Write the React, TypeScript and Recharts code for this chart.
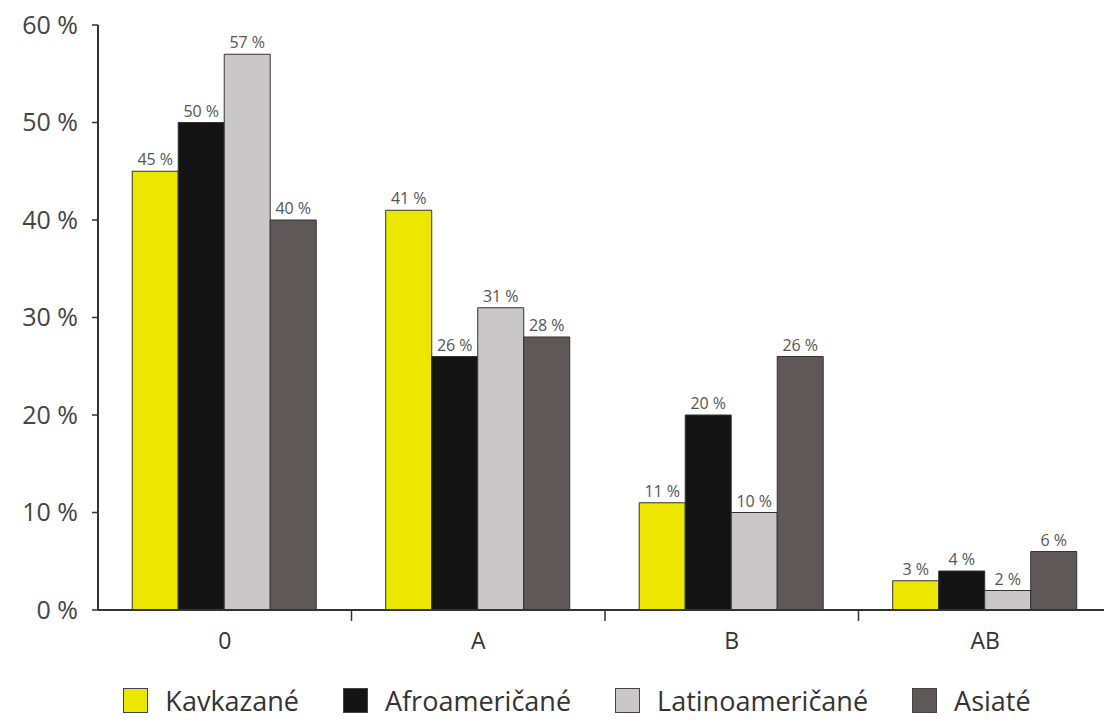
import { BarChart, Bar, XAxis, YAxis, LabelList, Legend } from "recharts";

const groups = ["0", "A", "B", "AB"];
const kavkazane = [45, 41, 11, 3];
const afroamericane = [50, 26, 20, 4];
const latinoamericane = [57, 31, 10, 2];
const asiate = [40, 28, 26, 6];
const yTicks = [0, 10, 20, 30, 40, 50, 60];

const series = [
  { key: "kav", name: "Kavkazané", color: "#ede600", values: kavkazane },
  { key: "afro", name: "Afroameričané", color: "#141414", values: afroamericane },
  { key: "lat", name: "Latinoameričané", color: "#c9c7c7", values: latinoamericane },
  { key: "asi", name: "Asiaté", color: "#5e5858", values: asiate },
];

const data = groups.map((g, i) => {
  const row: Record<string, string | number> = { group: g };
  series.forEach((s) => (row[s.key] = s.values[i]));
  return row;
});

const FONT = "'Open Sans', 'Noto Sans', sans-serif";

const XTick = (props: any) => {
  const { x, y, payload, index } = props;
  const off = payload.offset || 0;
  return (
    <g>
      {index > 0 && (
        <line x1={x - off} x2={x - off} y1={y - 8} y2={y + 3} stroke="#333" strokeWidth={1.5} />
      )}
      <text x={x} y={y + 31} textAnchor="middle" fill="#333" fontSize={23} fontFamily={FONT}>
        {payload.value}
      </text>
    </g>
  );
};

const renderLegend = () => (
  <div
    style={{
      display: "flex",
      justifyContent: "center",
      gap: 44,
      fontFamily: FONT,
      fontSize: 27,
      color: "#333",
      paddingLeft: 34,
      paddingTop: 22,
    }}
  >
    {series.map((s) => (
      <div key={s.key} style={{ display: "flex", alignItems: "center" }}>
        <span
          style={{
            display: "inline-block",
            width: 23,
            height: 23,
            background: s.color,
            border: "1.5px solid #444",
            marginRight: 17,
          }}
        />
        {s.name}
      </div>
    ))}
  </div>
);

export default function App() {
  return (
    <BarChart
      width={1104}
      height={716}
      data={data}
      margin={{ top: 17, right: 0, bottom: 0, left: 0 }}
      barCategoryGap="13.5%"
      barGap={0}
    >
      <XAxis
        dataKey="group"
        height={50}
        axisLine={{ stroke: "#333", strokeWidth: 2 }}
        tickLine={false}
        tick={<XTick />}
        interval={0}
      />
      <YAxis
        width={90}
        domain={[0, 60]}
        ticks={yTicks}
        tickFormatter={(v: number) => `${v} %`}
        axisLine={{ stroke: "#333", strokeWidth: 2 }}
        tickLine={{ stroke: "#333", strokeWidth: 1.5 }}
        tickSize={6}
        tickMargin={14}
        tick={{ fill: "#444", fontSize: 25, fontFamily: FONT }}
      />
      <Legend verticalAlign="bottom" height={64} content={renderLegend} />
      {series.map((s) => (
        <Bar
          key={s.key}
          dataKey={s.key}
          name={s.name}
          fill={s.color}
          stroke="#333"
          strokeWidth={1}
          isAnimationActive={false}
        >
          <LabelList
            dataKey={s.key}
            position="top"
            offset={6}
            formatter={(v: any) => `${v} %`}
            style={{ fill: "#555", fontSize: 16, fontFamily: FONT }}
          />
        </Bar>
      ))}
    </BarChart>
  );
}
